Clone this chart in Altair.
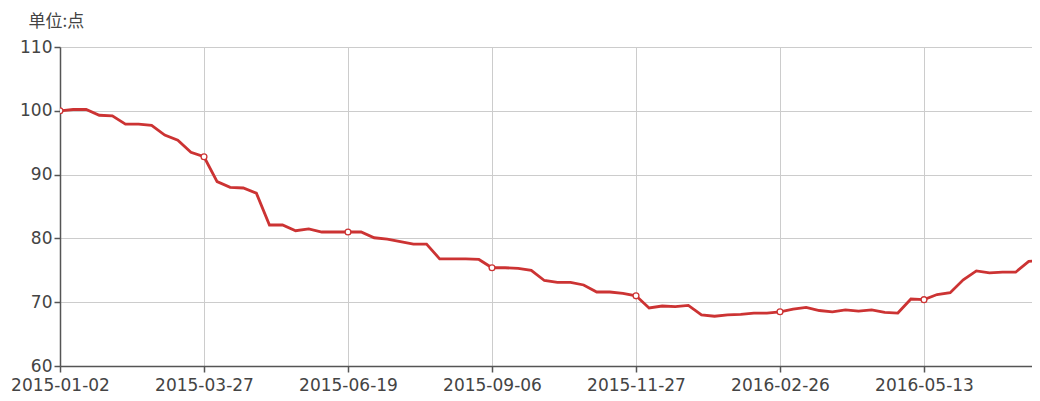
import altair as alt
import pandas as pd

# values, one per category (weekly-ish dates)
values = [
    100.0, 100.2, 100.2, 99.3, 99.2, 97.9, 97.9, 97.7, 96.2, 95.4, 93.5, 92.8,
    88.9, 88.0, 87.9, 87.1, 82.1, 82.1, 81.2, 81.5, 81.0, 81.0, 81.0,
    81.0, 80.1, 79.9, 79.5, 79.1, 79.1, 76.8, 76.8, 76.8, 76.7, 75.4,
    75.4, 75.3, 75.0, 73.4, 73.1, 73.1, 72.7, 71.6, 71.6, 71.4, 71.0,
    69.1, 69.4, 69.3, 69.5, 68.0, 67.8, 68.0, 68.1, 68.3, 68.3, 68.5,
    68.9, 69.2, 68.7, 68.5, 68.8, 68.6, 68.8, 68.4, 68.3, 70.5, 70.4,
    71.2, 71.5, 73.5, 74.9, 74.6, 74.7, 74.7, 76.4, 76.6,
]
tick_labels = ["2015-01-02", "2015-03-27", "2015-06-19", "2015-09-06",
               "2015-11-27", "2016-02-26", "2016-05-13"]
label_step = 11
marker_idx = [i * label_step for i in range(len(tick_labels))]

df = pd.DataFrame({"i": list(range(len(values))), "v": values})
df_m = df[df["i"].isin(marker_idx)]

label_expr = "[" + ",".join(f"'{t}'" for t in tick_labels) + "][round(datum.value/11)]"

plot_w = 972
px_per = 864 / 66
x_max = plot_w / px_per

x = alt.X("i:Q",
          scale=alt.Scale(domain=[0, x_max], nice=False, zero=False),
          axis=alt.Axis(values=marker_idx, labelExpr=label_expr, title=None,
                        grid=True, gridColor="#cccccc", domain=True,
                        domainColor="#555555", domainWidth=1.5,
                        tickColor="#555555", tickSize=6, tickWidth=1.5,
                        labelFontSize=17, labelColor="#444444",
                        labelFont="DejaVu Sans", labelPadding=5,
                        labelOverlap=False, labelFlush=False))
y = alt.Y("v:Q",
          scale=alt.Scale(domain=[60, 110], nice=False, zero=False),
          axis=alt.Axis(values=[60, 70, 80, 90, 100, 110], title="单位:点",
                        titleAngle=0, titleX=-32, titleY=-26,
                        titleAlign="left", titleBaseline="middle",
                        titleFont="Noto Sans CJK SC", titleFontSize=17,
                        titleFontWeight="normal", titleColor="#444444",
                        grid=True, gridColor="#cccccc",
                        domainColor="#555555", domainWidth=1.5,
                        tickColor="#555555", tickSize=6, tickWidth=1.5,
                        labelFontSize=17, labelColor="#444444",
                        labelFont="DejaVu Sans", labelPadding=2))

line = alt.Chart(df).mark_line(color="#cc3333", strokeWidth=2.8, clip=True).encode(x=x, y=y)
pts = alt.Chart(df_m).mark_point(shape="circle", filled=True, fill="white",
                                 stroke="#cc3333", strokeWidth=1.3, size=34,
                                 opacity=1, clip=True).encode(x=x, y=y)

chart = (line + pts).properties(
    width=plot_w, height=319,
    autosize=alt.AutoSizeParams(type="none"),
    padding={"left": 52, "top": 39, "right": 0, "bottom": 30},
).configure_view(stroke=None)

chart.save("out.html", embed_options={"renderer": "svg", "actions": False})
